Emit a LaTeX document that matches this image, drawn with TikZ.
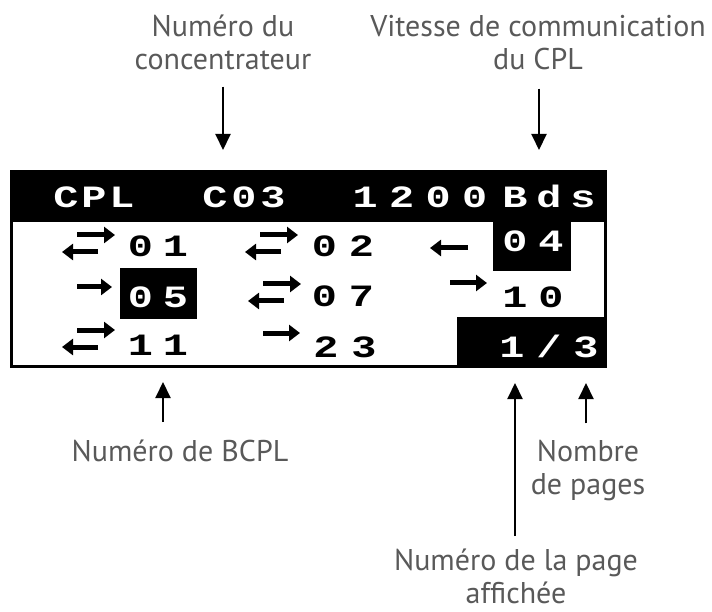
\documentclass[tikz,border=0pt]{standalone}
\usepackage{fontspec}
\usetikzlibrary{arrows.meta}
\newfontfamily\labfont{PT Sans}
\newfontfamily\lcdfont[FakeStretch=1.35]{Liberation Mono}
\definecolor{labelgray}{RGB}{89,89,89}
\def\pitchedloop#1{\ifx#1\relax\else\makebox[\lcpitchval pt][c]{#1}\expandafter\pitchedloop\fi}
\newcommand\pitched[2]{\def\lcpitchval{#1}\pitchedloop#2\relax}
\tikzset{
  lab/.style={font={\labfont\fontsize{30}{33}\selectfont}, text=labelgray, align=center, inner sep=0pt, anchor=base},
  lblarrow/.style={line width=2pt, -{Triangle[length=16pt,width=15pt]}},
  lcdk/.style={font={\lcdfont\bfseries\fontsize{31}{31}\selectfont}, text=black, inner sep=0pt, anchor=base},
  lcdw/.style={lcdk, text=white},
  scr/.style={line width=5pt, -{Triangle[length=11pt,width=16pt]}},
  screenframe/.style={line width=3pt},
  inv/.style={fill=black},
  dbl/.pic={\draw[scr] (15,-13) -- (53,-13); \draw[scr] (36,4) -- (0,4);}
}
\begin{document}
\begin{tikzpicture}[x=1pt,y=-1pt]
\useasboundingbox (0,0) rectangle (712,612);
% screen
\draw[screenframe] (11.5,172) rectangle (605,366);
\fill[inv] (10,171) rectangle (607,222);
\fill[inv] (493,221) rectangle (571,271);
\fill[inv] (120,268) rectangle (197,319);
\fill[inv] (457,317) rectangle (607,368);
% top row
\node[lcdw] (tCPL) at (94,208) {\pitched{28}{CPL}};
\node[lcdw] (tC03) at (244,208) {\pitched{29}{C03}};
\node[lcdw] (t1200) at (420,208) {\pitched{36.5}{1200}};
\node[lcdw] (tBds) at (549,208) {\pitched{34}{Bds}};
% row 1
\pic at (62,248) {dbl};
\node[lcdk] (n01) at (158,257) {\pitched{35}{01}};
\pic at (245,248) {dbl};
\node[lcdk] (n02) at (343,257) {\pitched{37}{02}};
\draw[scr] (468,248) -- (430,248);
\node[lcdw] (n04) at (533,252) {\pitched{36}{04}};
% row 2
\draw[scr] (77,287) -- (112,287);
\node[lcdw] (n05) at (158,308) {\pitched{35}{05}};
\pic at (248,297) {dbl};
\node[lcdk] (n07) at (343,307) {\pitched{37}{07}};
\draw[scr] (450,283) -- (487,283);
\node[lcdk] (n10) at (533,308) {\pitched{36}{10}};
% row 3
\pic at (62,343) {dbl};
\node[lcdk] (n11) at (158,355) {\pitched{35}{11}};
\draw[scr] (263,333) -- (300,333);
\node[lcdk] (n23) at (345,357) {\pitched{38}{23}};
\node[lcdw] (npg) at (549,357) {\pitched{37}{1/3}};
% labels (anchor base = baseline of the last line)
\node[lab] (labConc) at (223,70) {Numéro du\\concentrateur};
\node[lab] (labVit) at (538,70) {Vitesse de communication\\du CPL};
\node[lab] (labBCPL) at (180,461) {Numéro de BCPL};
\node[lab] (labNb) at (588,494) {Nombre\\de pages};
\node[lab] (labPage) at (516,603) {Numéro de la page\\affichée};
% arrow targets
\coordinate (tipConc) at (223,150);
\coordinate (tipVit) at (539,150);
\coordinate (tipBCPL) at (163,382);
\coordinate (tipCur) at (515,383);
\coordinate (tipNb) at (586,383);
\draw[lblarrow, shorten <=16pt] (labConc.south) -- (tipConc);
\draw[lblarrow, shorten <=18pt] (labVit.south -| tipVit) -- (tipVit);
\draw[lblarrow, shorten <=17pt] (labBCPL.north -| tipBCPL) -- (tipBCPL);
\draw[lblarrow, shorten <=16pt] (labNb.north -| tipNb) -- (tipNb);
\draw[lblarrow, shorten <=12pt] (labPage.north -| tipCur) -- (tipCur);
\end{tikzpicture}
\end{document}
